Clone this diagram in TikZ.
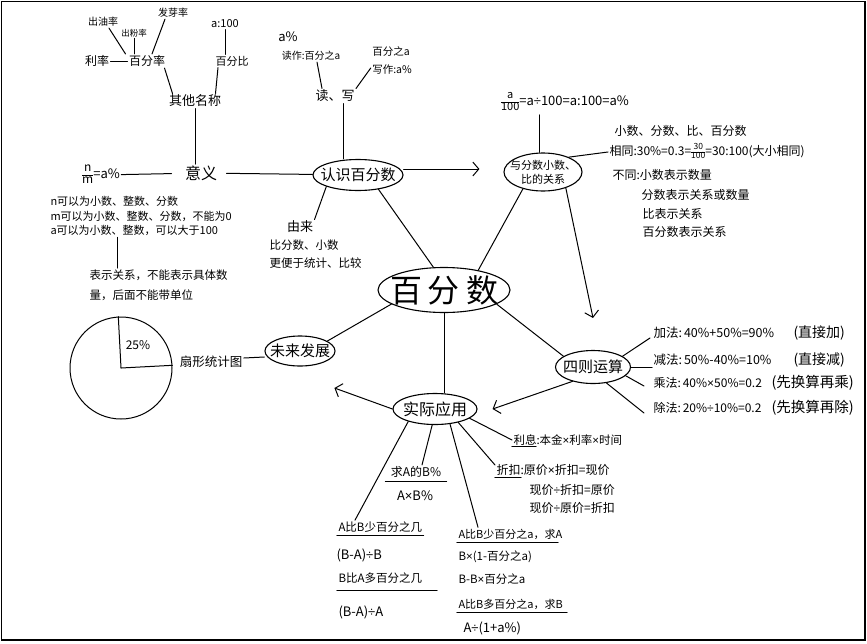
\documentclass[tikz,border=0pt]{standalone}
\usepackage{fontspec}
\setmainfont{Noto Sans CJK SC}
\newfontfamily\libsans{Liberation Sans}
\newcommand\mul{{\libsans ×}}
\newcommand\dvd{{\libsans ÷}}
\newcommand\hfrac[3][9]{$\vcenter{\hbox{\fontsize{#1}{#1}\selectfont\setlength\tabcolsep{0pt}\begin{tabular}{c}#2\\\hline #3\end{tabular}}}$}
\usetikzlibrary{shapes.geometric,arrows.meta}
\tikzset{
  every node/.style={inner sep=1pt},
  tx/.style={font=\fontsize{#1}{#1}\selectfont},
  oval/.style={ellipse,draw,inner sep=0pt,line width=1.1pt},
  arr/.style={-{Straight Barb[length=6pt,width=14pt,line width=1pt]}},
  uline/.style={line width=1.1pt},
}
\begin{document}
\begin{tikzpicture}[x=1pt,y=-1pt,line width=1pt,line cap=round]
\useasboundingbox (0,0) rectangle (867,643);
\draw[line width=1.5pt] (1.5,1.5) rectangle (865,640);

% ---------- other names
\node[tx=10] (chuyou) at (103,22) {出油率};
\node[tx=8.5] (chufen) at (134,33) {出粉率};
\node[tx=10] (faya) at (173,13) {发芽率};
\node[tx=12] (lilv) at (97,61) {利率};
\node[tx=12] (bfl) at (147,61) {百分率};
\node[tx=11] (a100) at (225,24) {a:100};
\node[tx=11] (bfb) at (232,61) {百分比};
\node[tx=13] (qita) at (195,101) {其他名称};
\draw ([xshift=6pt]chuyou.south) -- ([xshift=-2pt]bfl.north west);
\draw (chufen.south) -- (chufen.south |- bfl.north);
\draw ([xshift=-8pt]faya.south) -- ([xshift=5pt]bfl.north);
\draw (lilv) -- (bfl);
\draw (a100.south) -- (a100.south |- bfb.north);
\draw ([xshift=-2pt]bfl.south east) -- ([xshift=5pt]qita.north west);
\draw ([xshift=4pt]bfb.south west) -- ([xshift=-7pt]qita.north east);

% ---------- meaning
\node[tx=16] (yiyi) at (201,173) {意义};
\node[tx=13] (nm) at (101,175) {\hfrac[12]{n}{m}=a\%};
\draw (qita.south) -- (qita.south |- yiyi.north);
\draw[shorten >=12pt] (nm) -- (yiyi);
\node[font=\fontsize{11}{14.5}\selectfont,anchor=north west,align=left] (yinote) at (49,195)
  {n可以为小数、整数、分数\\m可以为小数、整数、分数，不能为0\\a可以为小数、整数，可以大于100};
\node[font=\fontsize{11.5}{20}\selectfont,anchor=north west,align=left] (yinote2) at (88,268)
  {表示关系，不能表示具体数\\量，后面不能带单位};
\draw ([xshift=29pt]yinote2.north west) -- ([xshift=29pt]yinote2.north west |- yinote.south);

% ---------- read / write
\node[tx=13] (adu) at (288,37) {a\%};
\node[tx=10] (duzuo) at (311,56) {读作:百分之a};
\node[font=\fontsize{10.5}{18}\selectfont,align=left] (xiezuo) at (392,60) {百分之a\\写作:a\%};
\node[tx=13] (duxie) at (335,96) {读、写};
\draw ([xshift=6pt]duzuo.south) -- ([xshift=-13pt]duxie.north);
\draw ([yshift=-8pt]xiezuo.west) -- (duxie.north east);

% ---------- know percent
\node[oval,minimum width=90pt,minimum height=31pt,label={[tx=15]center:认识百分数}] (renshi) at (358,175) {};
\draw ([xshift=8pt]duxie.south) -- ([xshift=8pt]duxie.south |- renshi.north);
\draw[shorten <=8pt] (yiyi) -- (renshi);
\node[tx=13] (youlai) at (300,227) {由来};
\node[font=\fontsize{11.5}{18}\selectfont,anchor=north west,align=left] (youlainote) at (268,238)
  {比分数、小数\\更便于统计、比较};
\draw (renshi.-160) -- (youlai.north east);

% ---------- relation
\node[oval,minimum width=78pt,minimum height=38pt,
  label={[align=center,font=\fontsize{11}{14}\selectfont]center:{与分数小数、\\比的关系}}] (guanxi) at (543,172) {};
\draw[arr,shorten >=24pt] ([yshift=6pt]renshi.east) -- ([yshift=6pt]renshi.east -| guanxi.west);
\node[tx=13] (formula) at (565,102) {\hfrac[11]{a}{100}=a\dvd{}100=a:100=a\%};
\draw ([xshift=-4pt]guanxi.north) -- ([xshift=-4pt]guanxi.north |- formula.south);
\node[tx=12,anchor=west] (r1) at (613,131) {小数、分数、比、百分数};
\node[tx=12,anchor=west] (r2) at (608,152) {相同:30\%=0.3=\hfrac[8.5]{30}{100}=30:100(大小相同)};
\node[tx=12,anchor=west] (r3) at (611,175) {不同:小数表示数量};
\node[tx=12,anchor=west] (r4) at (640,195) {分数表示关系或数量};
\node[tx=12,anchor=west] (r5) at (641,214) {比表示关系};
\node[tx=12,anchor=west] (r6) at (641,232) {百分数表示关系};
\draw (guanxi.30) -- (r2.west);

% ---------- centre
\node[oval,minimum width=132pt,minimum height=45pt,
  label={[tx=32]center:百\hspace{6pt}分\hspace{6pt}数}] (bfs) at (444,290) {};
\draw (renshi.-35) -- (bfs.115);
\draw (guanxi.-140) -- (bfs.30);

% ---------- operations
\node[oval,minimum width=75pt,minimum height=33pt,label={[tx=15]center:四则运算}] (sz) at (593,367) {};
\draw[arr] (guanxi.-35) -- ([yshift=32pt]sz.north);
\draw (bfs.-15) -- (sz.160);
\node[tx=12.5,anchor=west] (jia) at (652,333) {\makebox[140pt][l]{加法:\,40\%+50\%=90\%}{\fontsize{14}{14}\selectfont(直接加)}};
\node[tx=12.5,anchor=west] (jian) at (652,360) {\makebox[140pt][l]{减法:\,50\%-40\%=10\%}{\fontsize{14}{14}\selectfont(直接减)}};
\node[tx=12,anchor=west] (cheng) at (652,383) {\makebox[118pt][l]{乘法:\,40\%\mul{}50\%=0.2}{\fontsize{14.5}{14.5}\selectfont(先换算再乘)}};
\node[tx=12,anchor=west] (chu) at (652,408) {\makebox[118pt][l]{除法:\,20\%\dvd{}10\%=0.2}{\fontsize{14.5}{14.5}\selectfont(先换算再除)}};
\draw (sz.20) -- ([xshift=-2pt,yshift=-5pt]jia.west);
\draw (sz.east) -- (sz.east -| jian.west);
\draw (sz.-15) -- ([xshift=-8pt,yshift=-3pt]cheng.west);
\draw (sz.-50) -- ([xshift=-8pt,yshift=-5pt]chu.west);

% ---------- application
\node[oval,minimum width=84pt,minimum height=31pt,label={[tx=16]center:实际应用}] (shiji) at (435,409) {};
\draw (bfs.south) -- (bfs.south |- shiji.north);
\draw[arr] (sz.-145) -- ([xshift=15pt]shiji.east);

% ---------- future
\node[oval,minimum width=70pt,minimum height=30pt,label={[tx=15]center:未来发展}] (weilai) at (300,351) {};
\draw (bfs.-165) -- (weilai.20);
\draw[arr] (shiji.west) -- ([xshift=-58pt,yshift=21pt]shiji.west);
\node[tx=12.5] (shanxing) at (211,362) {扇形统计图};
\draw ([yshift=4pt]shanxing.east) -- ([yshift=-6pt]weilai.west);
\node[circle,draw,minimum size=102pt,inner sep=0pt] (pie) at (121,368) {};
\draw (pie.center) -- (pie.93);
\draw (pie.center) -- (pie.3);
\node[tx=12] (pct) at (138,345) {25\%};

% ---------- interest / discount
\node[tx=11.5,anchor=west] (lixi) at (512,440) {利息:本金\mul{}利率\mul{}时间};
\draw[uline] (lixi.south west) -- ([xshift=24pt]lixi.south west);
\draw (shiji.-15) -- (lixi.west);
\node[tx=12,anchor=west] (z1) at (495,470) {折扣:原价\mul{}折扣=现价};
\node[tx=12,anchor=west] (z2) at (528,490) {现价\dvd{}折扣=原价};
\node[tx=12,anchor=west] (z3) at (528,508) {现价\dvd{}原价=折扣};
\draw[uline] (z1.south west) -- ([xshift=26pt]z1.south west);
\draw (shiji.-30) -- ([yshift=5pt]z1.west);

% ---------- A of B%
\node[tx=12] (qiuAB) at (416,472) {求A的B\%};
\node[tx=13] (axb) at (415,496) {A\mul{}B\%};
\draw[uline] ([xshift=-4pt,yshift=-2pt]qiuAB.south west) -- ([xshift=4pt,yshift=-2pt]qiuAB.south east);
\draw (shiji.-100) -- ([xshift=6pt]qiuAB.north);

% ---------- left group
\node[tx=11.5,anchor=west] (g1a) at (337,527) {A比B少百分之几};
\node[tx=13,anchor=west] (g1b) at (335,555) {(B-A)\dvd{}B};
\node[tx=11.5,anchor=west] (g1c) at (337,578) {B比A多百分之几};
\node[tx=13,anchor=west] (g1d) at (337,612) {(B-A)\dvd{}A};
\draw[uline] ([yshift=-2pt]g1a.south west) -- ([yshift=-2pt]g1a.south east);
\draw[uline] ([yshift=-6pt]g1c.south west) -- ([xshift=100pt,yshift=-6pt]g1c.south west);
\draw (shiji.-155) -- ([xshift=18pt]g1a.north west);

% ---------- right group
\node[tx=11,anchor=west] (g2a) at (457,534) {A比B少百分之a，求A};
\node[tx=11.5,anchor=west] (g2b) at (457,557) {B\mul{}(1-百分之a)};
\node[tx=11.5,anchor=west] (g2c) at (457,579) {B-B\mul{}百分之a};
\node[tx=11,anchor=west] (g2d) at (457,604) {A比B多百分之a，求B};
\node[tx=13,anchor=west] (g2e) at (462,628) {A\dvd{}(1+a\%)};
\draw[uline] ([yshift=-2pt]g2a.south west) -- ([xshift=101pt,yshift=-2pt]g2a.south west);
\draw[uline] ([yshift=-2pt]g2d.south west) -- ([xshift=110pt,yshift=-2pt]g2d.south west);
\draw (shiji.-45) -- ([xshift=21pt]g2a.north west);
\end{tikzpicture}
\end{document}
